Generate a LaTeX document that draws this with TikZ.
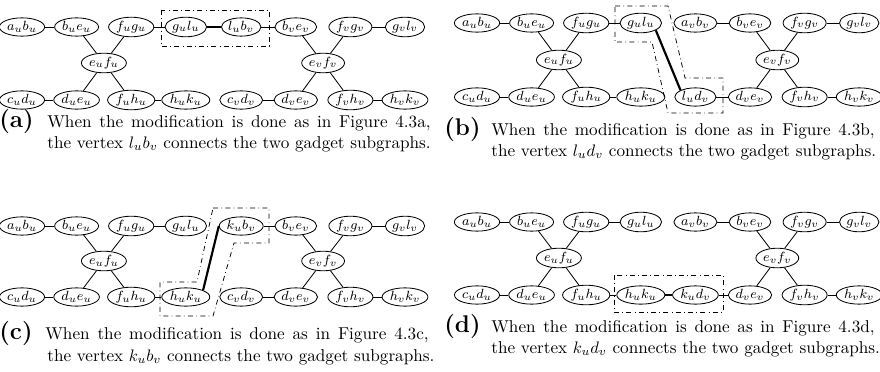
\documentclass[tikz,border=0pt]{standalone}
\usepackage{amsmath}
\usetikzlibrary{shapes.geometric}
\tikzset{
  vtx/.style={draw, ellipse, line width=0.5pt, inner sep=0.6pt, minimum width=23pt, minimum height=10pt, font=\fontsize{8}{9}\selectfont},
  edge/.style={line width=0.5pt},
  link/.style={line width=1.3pt},
  cut/.style={dash dot, line width=0.45pt},
  capt/.style={anchor=base west, inner sep=0pt, font=\fontsize{10.3}{12.6}\selectfont},
  tag/.style={anchor=base west, inner sep=0pt, font=\fontsize{14.5}{16}\selectfont\bfseries}
}
% first caption line, spread to the width of the second
\newcommand{\capline}[1]{\makebox[230pt][s]{#1}}
% one gadget: #1 name, #2 index, #3 left column, #4 top row, #5 middle, #6 bottom row,
% #7 top left vertex, #8 bottom left vertex
\newcommand{\gadget}[8]{%
  \node[vtx] (#1ab) at (#3,#4) {$#7$};
  \node[vtx] (#1be) at (#3+54.6,#4) {$b_#2e_#2$};
  \node[vtx] (#1fg) at (#3+109.2,#4) {$f_#2g_#2$};
  \node[vtx] (#1gl) at (#3+163.8,#4) {$g_#2l_#2$};
  \node[vtx] (#1ef) at (#3+81.9,#5) {$e_#2f_#2$};
  \node[vtx] (#1cd) at (#3,#6) {$#8$};
  \node[vtx] (#1de) at (#3+54.6,#6) {$d_#2e_#2$};
  \node[vtx] (#1fh) at (#3+109.2,#6) {$f_#2h_#2$};
  \node[vtx] (#1hk) at (#3+163.8,#6) {$h_#2k_#2$};
  \draw[edge] (#1ab) -- (#1be) (#1fg) -- (#1gl) (#1cd) -- (#1de) (#1fh) -- (#1hk);
  \foreach \n in {be,fg,de,fh} \draw[edge] (#1ef) -- (#1\n);
}

\begin{document}
\begin{tikzpicture}[x=0.6pt, y=-0.6pt]
\useasboundingbox (0,0) rectangle (880,371);

% (a)
\gadget{a-u-}{u}{22}{27}{63}{100}{a_ub_u}{c_ud_u}
\gadget{a-v-}{v}{241.2}{27}{63}{100}{l_ub_v}{c_vd_v}
\draw[link] (a-u-gl) -- (a-v-ab);
\draw[cut] (161,10) rectangle (269,46);
\node[tag] (a-tag) at (-1,127) {(a)};
\node[capt] (a-cap1) at (47,127) {\capline{When the modification is done as in Figure 4.3a,}};
\node[capt] (a-cap2) at (47,148) {the vertex $l_ub_v$ connects the two gadget subgraphs.};

% (b)
\gadget{b-u-}{u}{477}{23}{60}{97}{a_ub_u}{c_ud_u}
\gadget{b-v-}{v}{695.4}{23}{60}{97}{a_vb_v}{l_ud_v}
\draw[link] (b-u-gl.south east) -- (b-v-cd.north west);
\draw[cut] (615,6) -- (668,6) -- (685,78) -- (723,78) -- (723,113)
  -- (668,113) -- (652,42) -- (615,42) -- cycle;
\node[tag] (b-tag) at (444,135) {(b)};
\node[capt] (b-cap1) at (491,135) {\capline{When the modification is done as in Figure 4.3b,}};
\node[capt] (b-cap2) at (491,156) {the vertex $l_ud_v$ connects the two gadget subgraphs.};

% (c)
\gadget{c-u-}{u}{22}{226}{261}{297}{a_ub_u}{c_ud_u}
\gadget{c-v-}{v}{241.2}{226}{261}{297}{k_ub_v}{c_vd_v}
\draw[link] (c-u-hk.north east) -- (c-v-ab.west);
\draw[cut] (213,208) -- (269,208) -- (269,243) -- (234,243) -- (213,316)
  -- (160,316) -- (160,282) -- (197,282) -- cycle;
\node[tag] (c-tag) at (-1,339) {(c)};
\node[capt] (c-cap1) at (45,339) {\capline{When the modification is done as in Figure 4.3c,}};
\node[capt] (c-cap2) at (47,361) {the vertex $k_ub_v$ connects the two gadget subgraphs.};

% (d)
\gadget{d-u-}{u}{477}{222}{258}{295}{a_ub_u}{c_ud_u}
\gadget{d-v-}{v}{695.4}{222}{258}{295}{a_vb_v}{k_ud_v}
\draw[link] (d-u-hk) -- (d-v-cd);
\draw[cut] (614,275) rectangle (723,312);
\node[tag] (d-tag) at (444,332) {(d)};
\node[capt] (d-cap1) at (491,332) {\capline{When the modification is done as in Figure 4.3d,}};
\node[capt] (d-cap2) at (491,353) {the vertex $k_ud_v$ connects the two gadget subgraphs.};
\end{tikzpicture}
\end{document}
